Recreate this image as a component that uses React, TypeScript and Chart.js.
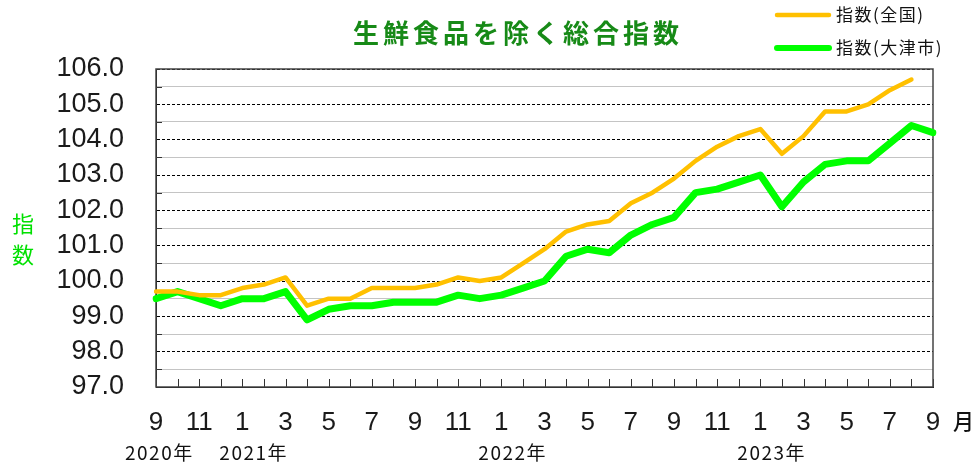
import { useEffect, useRef } from 'react';
import { Chart, registerables } from 'chart.js';

Chart.register(...registerables);

const chartTitle = '生鮮食品を除く総合指数';
const seriesNames = ['指数(全国)', '指数(大津市)'];
const yAxisTitle = ['指', '数'];
const monthUnit = '月';

const months = [
  '9', '10', '11', '12',
  '1', '2', '3', '4', '5', '6', '7', '8', '9', '10', '11', '12',
  '1', '2', '3', '4', '5', '6', '7', '8', '9', '10', '11', '12',
  '1', '2', '3', '4', '5', '6', '7', '8', '9',
];
const yearLabels = ['2020年', '2021年', '2022年', '2023年'];
const yearIndices = [0, 4, 16, 28];

const nationalIndex = [
  99.7, 99.7, 99.6, 99.6,
  99.8, 99.9, 100.1, 99.3, 99.5, 99.5, 99.8, 99.8, 99.8, 99.9, 100.1, 100.0,
  100.1, 100.5, 100.9, 101.4, 101.6, 101.7, 102.2, 102.5, 102.9, 103.4, 103.8, 104.1,
  104.3, 103.6, 104.1, 104.8, 104.8, 105.0, 105.4, 105.7, null,
];
const otsuIndex = [
  99.5, 99.7, 99.5, 99.3,
  99.5, 99.5, 99.7, 98.9, 99.2, 99.3, 99.3, 99.4, 99.4, 99.4, 99.6, 99.5,
  99.6, 99.8, 100.0, 100.7, 100.9, 100.8, 101.3, 101.6, 101.8, 102.5, 102.6, 102.8,
  103.0, 102.1, 102.8, 103.3, 103.4, 103.4, 103.9, 104.4, 104.2,
];

const yMin = 97;
const yMax = 106;
const yStep = 0.5;

const ORANGE = '#FFC000';
const GREEN = '#00FF00';
const NUM_FONT = "'Liberation Sans Narrow', 'Liberation Sans', Arial, sans-serif";
const CJK_FONT = "'Noto Sans CJK JP', 'Noto Sans', sans-serif";

const overlay = {
  id: 'overlay',
  beforeDatasetsDraw(chart: any) {
    const { ctx, chartArea: a, scales } = chart;
    const x = scales.x;
    const y = scales.y;
    ctx.save();
    ctx.strokeStyle = '#333';
    ctx.lineWidth = 1;
    for (let i = 0; i < months.length; i++) {
      const px = Math.round(x.getPixelForValue(i)) + 0.5;
      ctx.beginPath();
      ctx.moveTo(px, a.bottom);
      ctx.lineTo(px, a.bottom - 8);
      ctx.stroke();
    }
    for (let v = yMin + yStep; v < yMax; v += 1) {
      const py = Math.round(y.getPixelForValue(v)) + 0.5;
      ctx.beginPath();
      ctx.moveTo(a.left, py);
      ctx.lineTo(a.left + 6, py);
      ctx.stroke();
    }
    ctx.strokeStyle = '#444';
    ctx.lineWidth = 1.5;
    ctx.strokeRect(a.left, a.top, a.right - a.left, a.bottom - a.top);
    ctx.restore();
  },
  afterDraw(chart: any) {
    const { ctx, scales } = chart;
    const x = scales.x;
    ctx.save();
    // title
    ctx.fillStyle = '#178a17';
    ctx.font = `bold 26px ${CJK_FONT}`;
    (ctx as any).letterSpacing = '4px';
    ctx.textAlign = 'center';
    ctx.textBaseline = 'middle';
    ctx.fillText(chartTitle, 518, 33);
    (ctx as any).letterSpacing = '0px';

    // legend
    const legendColors = [ORANGE, GREEN];
    const legendWidths = [4.5, 6];
    const legendY = [15, 48];
    ctx.lineCap = 'round';
    for (let i = 0; i < seriesNames.length; i++) {
      ctx.strokeStyle = legendColors[i];
      ctx.lineWidth = legendWidths[i];
      ctx.beginPath();
      ctx.moveTo(777, legendY[i]);
      ctx.lineTo(829, legendY[i]);
      ctx.stroke();
      ctx.fillStyle = '#111';
      ctx.font = `17px ${CJK_FONT}`;
      (ctx as any).letterSpacing = '1.5px';
      ctx.textAlign = 'left';
      ctx.textBaseline = 'middle';
      ctx.fillText(seriesNames[i], 836, legendY[i]);
      (ctx as any).letterSpacing = '0px';
    }

    // y axis title
    ctx.fillStyle = '#00e000';
    ctx.font = `22px ${CJK_FONT}`;
    ctx.textAlign = 'center';
    ctx.textBaseline = 'middle';
    ctx.fillText(yAxisTitle[0], 23, 224);
    ctx.fillText(yAxisTitle[1], 23, 255);

    // year labels
    ctx.fillStyle = '#111';
    ctx.font = `19px ${CJK_FONT}`;
    (ctx as any).letterSpacing = '1.5px';
    ctx.textAlign = 'left';
    for (let i = 0; i < yearLabels.length; i++) {
      const px = x.getPixelForValue(yearIndices[i]);
      const off = i === 0 ? 31 : 23;
      ctx.fillText(yearLabels[i], px - off, 453);
    }
    (ctx as any).letterSpacing = '0px';

    // month unit
    ctx.font = `500 21px ${CJK_FONT}`;
    ctx.fillText(monthUnit, 953, 421);
    ctx.restore();
  },
};

export default function App() {
  const ref = useRef<HTMLCanvasElement | null>(null);
  useEffect(() => {
    if (!ref.current) return;
    const chart = new Chart(ref.current, {
      type: 'line',
      data: {
        labels: months,
        datasets: [
          {
            label: seriesNames[0],
            data: nationalIndex,
            borderColor: ORANGE,
            backgroundColor: ORANGE,
            borderWidth: 4.5,
            pointRadius: 0,
            tension: 0,
            borderJoinStyle: 'round',
            borderCapStyle: 'round',
            spanGaps: false,
          },
          {
            label: seriesNames[1],
            data: otsuIndex,
            borderColor: GREEN,
            backgroundColor: GREEN,
            borderWidth: 7,
            pointRadius: 0,
            tension: 0,
            borderJoinStyle: 'round',
            borderCapStyle: 'round',
          },
        ],
      },
      options: {
        animation: false,
        responsive: false,
        maintainAspectRatio: false,
        layout: { padding: { top: 69, right: 45, left: 0, bottom: 0 } },
        plugins: {
          legend: { display: false },
          title: { display: false },
          tooltip: { enabled: false },
        },
        scales: {
          x: {
            type: 'category',
            offset: false,
            grid: { display: false, drawTicks: false },
            border: { color: '#000', width: 1 },
            ticks: {
              autoSkip: false,
              maxRotation: 0,
              minRotation: 0,
              padding: 20,
              color: '#1a1a1a',
              font: { family: NUM_FONT, size: 26 },
              callback: (_v: any, idx: number) => (idx % 2 === 0 ? months[idx] : ''),
            },
            afterFit: (s: any) => {
              s.height = 81;
            },
          },
          y: {
            type: 'linear',
            min: yMin,
            max: yMax,
            grid: {
              drawTicks: false,
              color: (c: any) =>
                c.tick && Number.isInteger(c.tick.value) ? '#000' : '#c4c4c4',
              lineWidth: 1,
            },
            border: {
              color: '#000',
              width: 1,
              dash: (c: any) =>
                c.tick && Number.isInteger(c.tick.value) ? [3, 2] : [],
            },
            ticks: {
              stepSize: yStep,
              autoSkip: false,
              padding: 32,
              color: '#1a1a1a',
              font: { family: NUM_FONT, size: 27 },
              callback: (v: any) => (Number.isInteger(v) ? Number(v).toFixed(1) : ''),
            },
            afterFit: (s: any) => {
              s.width = 156;
            },
          },
        },
      },
      plugins: [overlay],
    } as any);
    return () => chart.destroy();
  }, []);
  return (
    <div style={{ position: 'absolute', left: 0, top: 0, width: 978, height: 468, background: '#fff' }}>
      <canvas ref={ref} width={978} height={468} />
    </div>
  );
}
